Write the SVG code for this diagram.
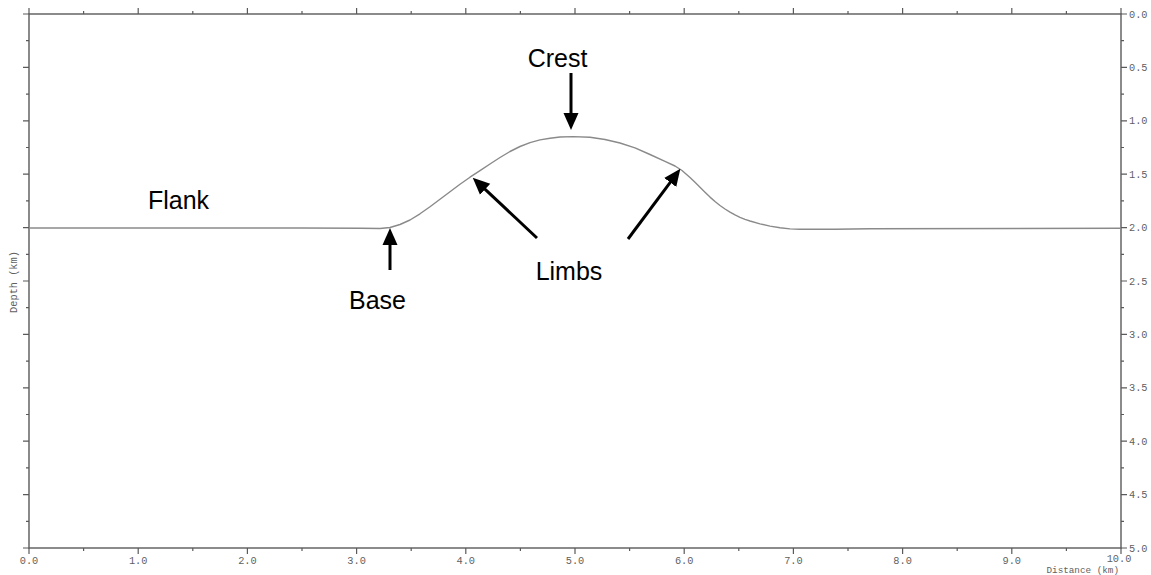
<svg xmlns="http://www.w3.org/2000/svg" width="1151" height="575" viewBox="0 0 1151 575">
<style>
.frame{fill:none;stroke:#5a5a5a;stroke-width:1.4}
.tick{fill:none;stroke:#5a5a5a;stroke-width:1.2}
.ax{font-family:"Liberation Mono","DejaVu Sans Mono",monospace;font-size:10.3px;fill:#5f5f5f}
.lbl{font-family:"Liberation Sans","Open Sans",sans-serif;font-size:25px;fill:#000;text-anchor:middle}
.curve{fill:none;stroke:#8a8a8a;stroke-width:1.4;stroke-linejoin:round}
.arr{fill:none;stroke:#000;stroke-width:3}
</style>
<defs>
<marker id="ah" markerUnits="userSpaceOnUse" markerWidth="17" markerHeight="16" viewBox="0 0 17 16" refX="1" refY="8" orient="auto">
<path d="M0,0.5 L17,8 L0,15.5 z" fill="#000"/>
</marker>
</defs>
<rect width="1151" height="575" fill="#fff"/>
<g id="axes">
<rect class="frame" x="29" y="14" width="1092" height="534"/>
<path class="tick" d="M29,8V14 M138.2,8V14 M247.4,8V14 M356.6,8V14 M465.8,8V14 M575,8V14 M684.2,8V14 M793.4,8V14 M902.6,8V14 M1011.8,8V14 M1121,8V14 M83.6,11V14 M192.8,11V14 M302,11V14 M411.2,11V14 M520.4,11V14 M629.6,11V14 M738.8,11V14 M848,11V14 M957.2,11V14 M1066.4,11V14"/>
<path class="tick" d="M29,548V554 M138.2,548V554 M247.4,548V554 M356.6,548V554 M465.8,548V554 M575,548V554 M684.2,548V554 M793.4,548V554 M902.6,548V554 M1011.8,548V554 M1121,548V554 M83.6,548V551 M192.8,548V551 M302,548V551 M411.2,548V551 M520.4,548V551 M629.6,548V551 M738.8,548V551 M848,548V551 M957.2,548V551 M1066.4,548V551"/>
<path class="tick" d="M23,14H29 M23,67.4H29 M23,120.8H29 M23,174.2H29 M23,227.6H29 M23,281H29 M23,334.4H29 M23,387.8H29 M23,441.2H29 M23,494.6H29 M23,548H29 M26,40.7H29 M26,94.1H29 M26,147.5H29 M26,200.9H29 M26,254.3H29 M26,307.7H29 M26,361.1H29 M26,414.5H29 M26,467.9H29 M26,521.3H29"/>
<path class="tick" d="M1121,14H1127 M1121,67.4H1127 M1121,120.8H1127 M1121,174.2H1127 M1121,227.6H1127 M1121,281H1127 M1121,334.4H1127 M1121,387.8H1127 M1121,441.2H1127 M1121,494.6H1127 M1121,548H1127 M1121,40.7H1124 M1121,94.1H1124 M1121,147.5H1124 M1121,200.9H1124 M1121,254.3H1124 M1121,307.7H1124 M1121,361.1H1124 M1121,414.5H1124 M1121,467.9H1124 M1121,521.3H1124"/>
<g class="ax" text-anchor="middle">
<text x="29" y="564">0.0</text>
<text x="138.2" y="564">1.0</text>
<text x="247.4" y="564">2.0</text>
<text x="356.6" y="564">3.0</text>
<text x="465.8" y="564">4.0</text>
<text x="575" y="564">5.0</text>
<text x="684.2" y="564">6.0</text>
<text x="793.4" y="564">7.0</text>
<text x="902.6" y="564">8.0</text>
<text x="1011.8" y="564">9.0</text>
<text x="1119" y="562">10.0</text>
</g>
<text class="ax" text-anchor="end" x="1119" y="572.5" style="font-size:9.3px">Distance (km)</text>
<g class="ax">
<text x="1129" y="17.5">0.0</text>
<text x="1129" y="70.9">0.5</text>
<text x="1129" y="124.3">1.0</text>
<text x="1129" y="177.7">1.5</text>
<text x="1129" y="231.1">2.0</text>
<text x="1129" y="284.5">2.5</text>
<text x="1129" y="337.9">3.0</text>
<text x="1129" y="391.3">3.5</text>
<text x="1129" y="444.7">4.0</text>
<text x="1129" y="498.1">4.5</text>
<text x="1129" y="551.5">5.0</text>
</g>
<text class="ax" text-anchor="middle" transform="translate(17,282) rotate(-90)">Depth (km)</text>
</g>
<g id="horizon">
<polyline class="curve" points="29,228 300,228 360,228.3 380,228.5 390,227.5 400,224.5 410,220 420,213.8 430,206.7 440,199.2 450,191.7 460,184.2 470,177.2 480,170.6 490,164 500,157.5 510,151.5 520,146.5 530,142.6 540,139.9 550,138.2 560,137 573,136.6 590,137.3 605,139.5 620,143 635,147.8 650,154.5 665,161.3 675,166 682,170.5 690,177.5 695,182.3 700,187.3 705,192.3 710,197.1 715,201.5 720,205.5 725,209 730,212.1 735,214.9 740,217.3 745,219.3 750,221 760,223.9 770,226.1 780,227.8 790,228.9 800,229.3 835,229.3 870,228.7 1121,228.3"/>
</g>
<g id="connectors">
<line class="arr" x1="571" y1="73" x2="571" y2="114" marker-end="url(#ah)"/>
<line class="arr" x1="390" y1="270" x2="390" y2="244" marker-end="url(#ah)"/>
<line class="arr" x1="537" y1="238" x2="484.4" y2="188.6" marker-end="url(#ah)"/>
<line class="arr" x1="628" y1="239" x2="670.8" y2="181.6" marker-end="url(#ah)"/>
</g>
<g id="label-crest"><text class="lbl" x="557.5" y="67">Crest</text></g>
<g id="label-flank"><text class="lbl" x="178.5" y="209">Flank</text></g>
<g id="label-base"><text class="lbl" x="377.5" y="309">Base</text></g>
<g id="label-limbs"><text class="lbl" x="569" y="280">Limbs</text></g>
</svg>
